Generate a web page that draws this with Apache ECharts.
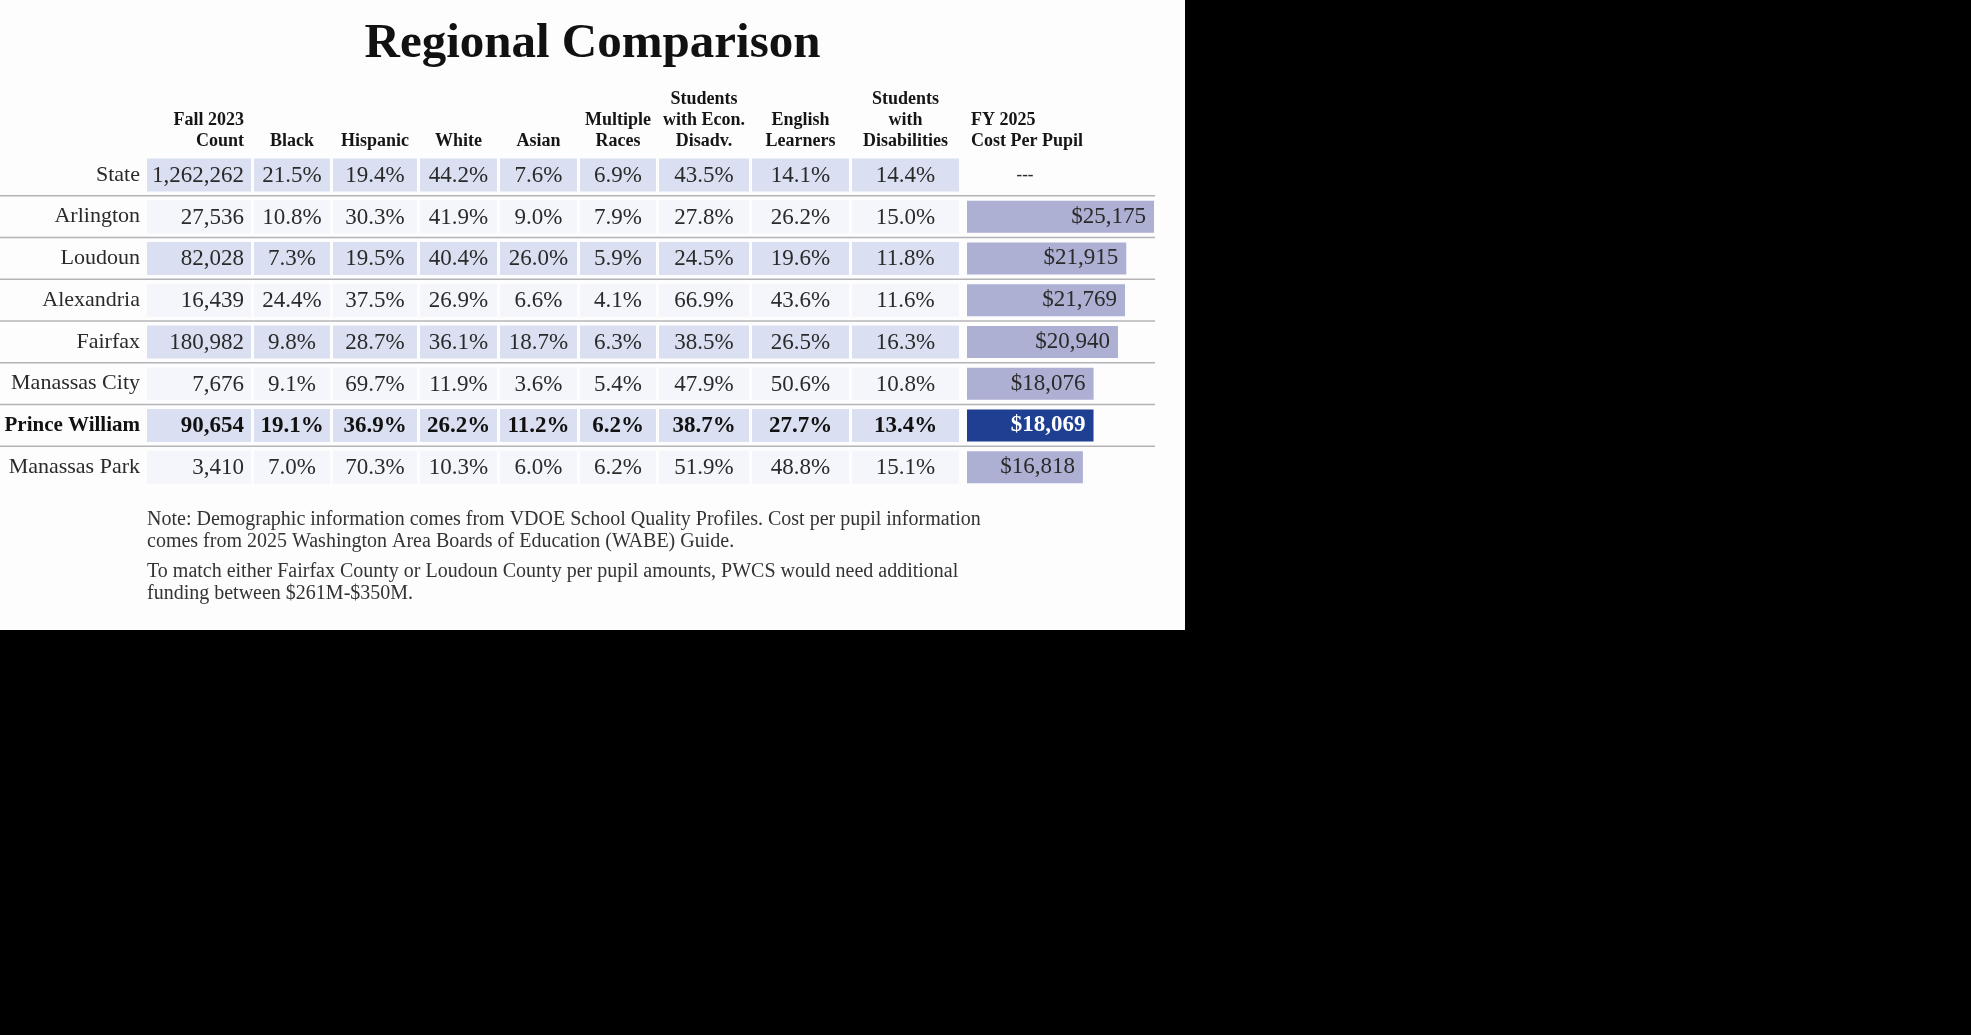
<!DOCTYPE html>
<html>
<head>
<meta charset="utf-8">
<script src="https://cdn.jsdelivr.net/npm/echarts@6/dist/echarts.min.js"></script>
<style>
  html, body { margin: 0; padding: 0; background: #000; }
  #main { position: absolute; left: 0; top: 0; width: 1185px; height: 630px; background: #fdfdfe; }
</style>
</head>
<body>
<div id="main"></div>
<script>
var rows = ['State', 'Arlington', 'Loudoun', 'Alexandria', 'Fairfax', 'Manassas City', 'Prince William', 'Manassas Park'];
var count = [1262262, 27536, 82028, 16439, 180982, 7676, 90654, 3410];
var black = [21.5, 10.8, 7.3, 24.4, 9.8, 9.1, 19.1, 7.0];
var hispanic = [19.4, 30.3, 19.5, 37.5, 28.7, 69.7, 36.9, 70.3];
var white = [44.2, 41.9, 40.4, 26.9, 36.1, 11.9, 26.2, 10.3];
var asian = [7.6, 9.0, 26.0, 6.6, 18.7, 3.6, 11.2, 6.0];
var multiple = [6.9, 7.9, 5.9, 4.1, 6.3, 5.4, 6.2, 6.2];
var econDisadv = [43.5, 27.8, 24.5, 66.9, 38.5, 47.9, 38.7, 51.9];
var englishLearners = [14.1, 26.2, 19.6, 43.6, 26.5, 50.6, 27.7, 48.8];
var disabilities = [14.4, 15.0, 11.8, 11.6, 16.3, 10.8, 13.4, 15.1];
var costPerPupil = [null, 25175, 21915, 21769, 20940, 18076, 18069, 16818];
var headers = ['Fall 2023\nCount', 'Black', 'Hispanic', 'White', 'Asian', 'Multiple\nRaces',
  'Students\nwith Econ.\nDisadv.', 'English\nLearners', 'Students\nwith\nDisabilities'];
var costHeader = 'FY 2025\nCost Per Pupil';
var highlight = 'Prince William';

// layout
var FONT = 'Liberation Serif';
var colW = [104, 76, 84, 77, 77, 76, 90, 97, 107];
var GAP = 3;
var colStart = [];
var acc = 0;
for (var i = 0; i < colW.length; i++) { colStart.push(acc); acc += colW[i] + GAP; }
var tableW = acc - GAP;
var gridTop = 154, gridH = 334;
var bandH = 33;

var columns = [count, black, hispanic, white, asian, multiple, econDisadv, englishLearners, disabilities];
var cells = [];
for (var c = 0; c < columns.length; c++) {
  for (var r = 0; r < rows.length; r++) {
    var v = columns[c][r];
    var txt = c === 0 ? v.toLocaleString('en-US') : v.toFixed(1) + '%';
    cells.push([c, r, txt]);
  }
}
var costData = costPerPupil.map(function (v, r) {
  if (v == null) return '-';
  return {
    value: v,
    itemStyle: { color: rows[r] === highlight ? '#1f3f92' : '#adafd3' },
    label: rows[r] === highlight ? { color: '#fff', fontWeight: 'bold' } : {}
  };
});

function shaded(r) { return r % 2 === 0; }

function renderCell(params, api) {
  var c = api.value(0), r = api.value(1);
  var p0 = api.coord([colStart[c], r]);
  var p1 = api.coord([colStart[c] + colW[c], r]);
  var bold = rows[r] === highlight;
  return {
    type: 'group',
    children: [{
      type: 'rect',
      shape: { x: p0[0], y: p0[1] - bandH / 2, width: p1[0] - p0[0], height: bandH },
      style: { fill: shaded(r) ? '#dae0f1' : '#f4f6fc' }
    }, {
      type: 'text',
      style: {
        text: cells[params.dataIndex][2],
        x: c === 0 ? p1[0] - 7 : (p0[0] + p1[0]) / 2,
        y: p0[1] + 1,
        align: c === 0 ? 'right' : 'center',
        verticalAlign: 'middle',
        fontFamily: FONT, fontSize: 23, fontWeight: bold ? 'bold' : 'normal',
        fill: bold ? '#111' : '#2a2a2a'
      }
    }]
  };
}

function renderHeader(params, api) {
  var c = params.dataIndex;
  var p0 = api.coord([colStart[c], 0]);
  var p1 = api.coord([colStart[c] + colW[c], 0]);
  return {
    type: 'text',
    style: {
      text: headers[c],
      x: c === 0 ? p1[0] - 7 : (p0[0] + p1[0]) / 2,
      y: p0[1] - 23,
      align: c === 0 ? 'right' : 'center',
      verticalAlign: 'bottom',
      lineHeight: 21,
      fontFamily: FONT, fontSize: 18, fontWeight: 'bold', fill: '#151515'
    }
  };
}

function renderCostExtras(params, api) {
  var p = api.coord([api.value(0), 0]);
  var kids = [{
    type: 'text',
    style: {
      text: costHeader, x: p[0] + 4, y: p[1] - 23, align: 'left', verticalAlign: 'bottom',
      lineHeight: 21, fontFamily: FONT, fontSize: 18, fontWeight: 'bold', fill: '#151515'
    }
  }, {
    type: 'text',
    style: {
      text: '---', x: p[0] + 58, y: p[1] + 1, align: 'center', verticalAlign: 'middle',
      fontFamily: FONT, fontSize: 17, fontWeight: 'bold', fill: '#2a2a2a'
    }
  }];
  return { type: 'group', children: kids };
}

function renderDivider(params, api) {
  var r = params.dataIndex;
  var a = api.coord([0, r]);
  var b = api.coord([1, r]);
  var y = a[1] + api.size([0, 1])[1] / 2;
  return {
    type: 'line',
    shape: { x1: a[0], y1: y, x2: b[0], y2: y },
    style: { stroke: '#b4b4b8', lineWidth: 1.5 }
  };
}

var chart = echarts.init(document.getElementById('main'), null, { renderer: 'canvas' });
var rowAxis = { type: 'category', data: rows, inverse: true, axisLine: { show: false }, axisTick: { show: false }, splitLine: { show: false } };
var noteStyle = { fontFamily: FONT, fontSize: 20, fontWeight: 'normal', color: '#333', lineHeight: 22 };

var option = {
  animation: false,
  title: [{
    text: 'Regional Comparison',
    left: 'center', top: 15,
    textStyle: { fontFamily: FONT, fontSize: 49, fontWeight: 'bold', color: '#111' }
  }, {
    text: 'Note: Demographic information comes from VDOE School Quality Profiles. Cost per pupil information\ncomes from 2025 Washington Area Boards of Education (WABE) Guide.',
    left: 147, top: 509, padding: 0,
    textStyle: noteStyle
  }, {
    text: 'To match either Fairfax County or Loudoun County per pupil amounts, PWCS would need additional\nfunding between $261M-$350M.',
    left: 147, top: 561, padding: 0,
    textStyle: noteStyle
  }],
  grid: [
    { left: 147, top: gridTop, width: tableW, height: gridH, containLabel: false, outerBoundsMode: 'none' },
    { left: 967, top: gridTop, width: 187, height: gridH, containLabel: false, outerBoundsMode: 'none' },
    { left: 0, top: gridTop, width: 1155, height: gridH, containLabel: false, outerBoundsMode: 'none' }
  ],
  xAxis: [
    { gridIndex: 0, type: 'value', min: 0, max: tableW, show: false },
    { gridIndex: 1, type: 'value', min: 3200, max: 25175, show: false },
    { gridIndex: 2, type: 'value', min: 0, max: 1, show: false }
  ],
  yAxis: [
    Object.assign({}, rowAxis, {
      gridIndex: 0,
      axisLabel: {
        margin: 7, fontFamily: FONT, fontSize: 22, color: '#2a2a2a',
        formatter: function (v) { return v === highlight ? '{b|' + v + '}' : v; },
        rich: { b: { fontFamily: FONT, fontSize: 21, fontWeight: 'bold', color: '#111' } }
      }
    }),
    Object.assign({}, rowAxis, { gridIndex: 1, axisLabel: { show: false } }),
    Object.assign({}, rowAxis, { gridIndex: 2, axisLabel: { show: false } })
  ],
  series: [
    {
      type: 'custom', xAxisIndex: 2, yAxisIndex: 2, z: 1,
      data: rows.slice(0, rows.length - 1).map(function (n, i) { return [0, i]; }),
      renderItem: renderDivider
    },
    {
      type: 'custom', xAxisIndex: 0, yAxisIndex: 0, z: 2,
      data: cells, renderItem: renderCell
    },
    {
      type: 'custom', xAxisIndex: 0, yAxisIndex: 0, z: 2,
      data: headers.map(function (h, i) { return [i, 0]; }),
      renderItem: renderHeader
    },
    {
      type: 'bar', xAxisIndex: 1, yAxisIndex: 1, z: 2,
      barWidth: 32,
      data: costData,
      label: {
        show: true, position: 'insideRight', distance: 8,
        fontFamily: FONT, fontSize: 23, color: '#2a2a2a',
        formatter: function (p) { return '$' + p.value.toLocaleString('en-US'); }
      }
    },
    {
      type: 'custom', xAxisIndex: 1, yAxisIndex: 1, z: 2,
      data: [[3200, 0]],
      renderItem: renderCostExtras
    }
  ]
};
chart.setOption(option);
</script>
</body>
</html>
